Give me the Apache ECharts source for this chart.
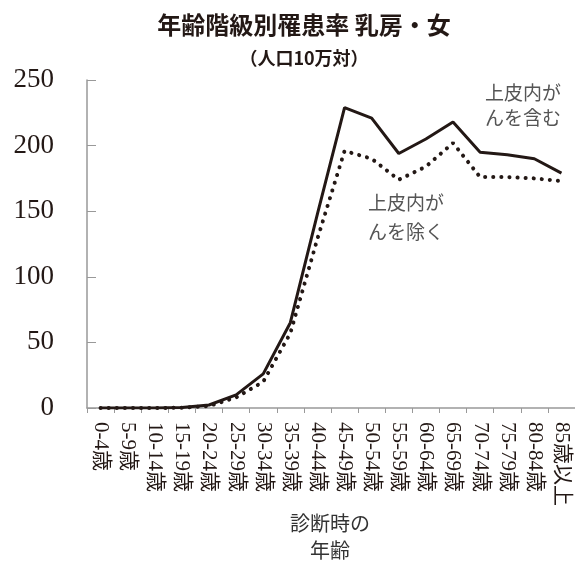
<!DOCTYPE html>
<html><head><meta charset="utf-8">
<script src="https://cdn.jsdelivr.net/npm/echarts@6/dist/echarts.min.js"></script>
<style>html,body{margin:0;padding:0;background:#fff}#c{width:575px;height:561px}</style>
</head><body><div id="c"></div>
<script>
const categories = ['0-4歳','5-9歳','10-14歳','15-19歳','20-24歳','25-29歳','30-34歳','35-39歳','40-44歳','45-49歳','50-54歳','55-59歳','60-64歳','65-69歳','70-74歳','75-79歳','80-84歳','85歳以上'];
const withInSitu = [0, 0, 0, 0.3, 2.3, 10, 26, 65, 148, 229, 221, 194, 205, 218, 195, 193, 190, 179];
const withoutInSitu = [0, 0, 0, 0.2, 1.5, 8, 20, 57, 129, 196, 190, 174, 184, 202, 176, 176, 175, 173];
const yTicks = [0, 50, 100, 150, 200, 250];

const cjk = '"Noto Sans CJK JP", sans-serif';
const serif = '"Liberation Serif", "Noto Sans CJK JP", serif';
const chart = echarts.init(document.getElementById('c'));
chart.setOption({
  animation: false,
  backgroundColor: '#fff',
  grid: {left: 87, top: 80, width: 491, height: 328, containLabel: false},
  xAxis: {
    type: 'category', data: categories, boundaryGap: true,
    axisLine: {lineStyle: {color: '#999', width: 1.5}},
    axisTick: {show: true, length: 5, lineStyle: {color: '#999'}},
    axisLabel: {rotate: -90, margin: 14, fontFamily: serif, fontSize: 21, color: '#231815', interval: 0}
  },
  yAxis: {
    type: 'value', min: yTicks[0], max: yTicks[yTicks.length-1], interval: 50,
    splitLine: {show: false},
    axisLine: {show: true, lineStyle: {color: '#999', width: 1.5}},
    axisTick: {show: true, inside: true, length: 9, lineStyle: {color: '#999'}},
    axisLabel: {margin: 33, fontFamily: serif, fontSize: 27, color: '#231815'}
  },
  series: [
    {type: 'line', data: withInSitu, symbol: 'none', z: 3,
     lineStyle: {color: '#231815', width: 3}},
    {type: 'line', data: withoutInSitu, symbol: 'none', z: 4,
     lineStyle: {color: '#231815', width: 4, type: [0.1, 8], cap: 'round'}}
  ],
  graphic: [
    {type: 'text', x: 304, y: 25, style: {text: '年齢階級別罹患率 乳房・女', fontFamily: cjk, fontSize: 24, fontWeight: 'bold', align: 'center', verticalAlign: 'middle', fill: '#231815'}},
    {type: 'text', x: 304, y: 58, style: {text: '（人口10万対）', fontFamily: cjk, fontSize: 18, fontWeight: 'bold', align: 'center', verticalAlign: 'middle', fill: '#231815'}},
    {type: 'text', x: 485, y: 80, style: {text: '上皮内が\nんを含む', fontFamily: cjk, fontSize: 19, lineHeight: 25, fill: '#555'}},
    {type: 'text', x: 368, y: 188, style: {text: '上皮内が\nんを除く', fontFamily: cjk, fontSize: 19, lineHeight: 29, fill: '#555'}},
    {type: 'text', x: 330, y: 510, style: {text: '診断時の\n年齢', fontFamily: cjk, fontSize: 20, lineHeight: 27, align: 'center', fill: '#333'}}
  ]
});
</script></body></html>
